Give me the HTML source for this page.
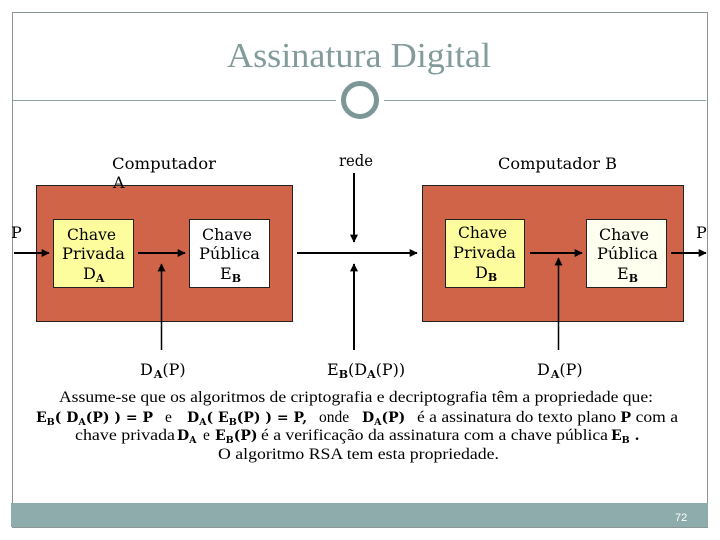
<!DOCTYPE html>
<html><head><meta charset="utf-8"><style>
html,body{margin:0;padding:0;background:#fff;width:720px;height:540px;overflow:hidden}
svg{display:block}
.d{font-family:"DejaVu Serif",serif;font-size:16px;fill:#000}
.s{font-family:"DejaVu Serif",serif;font-size:11px;font-weight:bold;fill:#000}
.b{font-family:"Liberation Serif",serif;font-size:15.5px;fill:#000}
.bb{font-family:"DejaVu Serif",serif;font-size:14px;font-weight:bold;fill:#000}
.bs{font-family:"DejaVu Serif",serif;font-size:9.5px;font-weight:bold;fill:#000}
</style></head><body>
<svg width="720" height="540" viewBox="0 0 720 540" xmlns="http://www.w3.org/2000/svg">
<defs><marker id="a" markerWidth="8" markerHeight="8" refX="5.5" refY="3" orient="auto" markerUnits="userSpaceOnUse" viewBox="0 0 6 6"><path d="M0 0L6 3L0 6z" fill="#000"/></marker></defs>
<rect x="12.500" y="12.500" width="695" height="515" fill="#fff" stroke="#8b9797" stroke-width="1"/>
<rect x="11" y="503" width="697" height="24" fill="#8dacab"/>
<text x="227" y="67" font-family="Liberation Serif,serif" font-size="35" fill="#839b9b" textLength="264" lengthAdjust="spacingAndGlyphs">Assinatura Digital</text>
<line x1="13" y1="100.500" x2="336" y2="100.500" stroke="#8aa0a0" stroke-width="1"/>
<line x1="384" y1="100.500" x2="706" y2="100.500" stroke="#8aa0a0" stroke-width="1"/>
<circle cx="360" cy="100" r="16.500" fill="#fff" stroke="#7d9696" stroke-width="5"/>

<rect x="36.500" y="185.500" width="256" height="136" fill="#cf6448" stroke="#222"/>
<rect x="53.500" y="219.500" width="80" height="68" fill="#fdfd9e" stroke="#222"/>
<rect x="189.500" y="219.500" width="80" height="68" fill="#fff" stroke="#222"/>
<rect x="422.500" y="185.500" width="261" height="136" fill="#cf6448" stroke="#222"/>
<rect x="445.500" y="219.500" width="79" height="68" fill="#fdfd9e" stroke="#222"/>
<rect x="586.500" y="219.500" width="80" height="68" fill="#fffff0" stroke="#222"/>

<g stroke="#000" stroke-width="2" fill="none">
<line x1="14" y1="253" x2="49" y2="253" marker-end="url(#a)"/>
<line x1="138" y1="253" x2="185" y2="253" marker-end="url(#a)"/>
<line x1="297" y1="253" x2="417" y2="253" marker-end="url(#a)"/>
<line x1="530" y1="253" x2="582" y2="253" marker-end="url(#a)"/>
<line x1="671" y1="253" x2="706" y2="253" marker-end="url(#a)"/>
<line x1="161.500" y1="350" x2="161.500" y2="264" stroke-width="1.500" marker-end="url(#a)"/>
<line x1="354" y1="173" x2="354" y2="242" marker-end="url(#a)"/>
<line x1="354" y1="350" x2="354" y2="264" marker-end="url(#a)"/>
<line x1="558.500" y1="350" x2="558.500" y2="258" stroke-width="1.500" marker-end="url(#a)"/>
</g>

<text class="d" x="112" y="169" textLength="104" lengthAdjust="spacingAndGlyphs">Computador</text>
<text class="d" x="113" y="188">A</text>
<text class="d" x="339" y="166" textLength="34" lengthAdjust="spacingAndGlyphs">rede</text>
<text class="d" x="498" y="169" textLength="119" lengthAdjust="spacingAndGlyphs">Computador B</text>
<text class="d" x="11" y="238">P</text>
<text class="d" x="696" y="238">P</text>

<g>
<text class="d" x="67" y="240" textLength="49" lengthAdjust="spacingAndGlyphs">Chave</text><text class="d" x="62" y="259" textLength="63" lengthAdjust="spacingAndGlyphs">Privada</text>
<text class="d" x="202" y="240" textLength="50" lengthAdjust="spacingAndGlyphs">Chave</text><text class="d" x="199" y="259" textLength="61" lengthAdjust="spacingAndGlyphs">Pública</text>
<text class="d" x="458" y="238" textLength="49" lengthAdjust="spacingAndGlyphs">Chave</text><text class="d" x="453" y="258" textLength="63" lengthAdjust="spacingAndGlyphs">Privada</text>
<text class="d" x="599" y="240" textLength="50" lengthAdjust="spacingAndGlyphs">Chave</text><text class="d" x="597" y="259" textLength="61" lengthAdjust="spacingAndGlyphs">Pública</text>
</g>
<text class="d" x="83" y="279">D<tspan class="s" dy="3">A</tspan></text>
<text class="d" x="220" y="279">E<tspan class="s" dy="3">B</tspan></text>
<text class="d" x="475" y="278">D<tspan class="s" dy="3">B</tspan></text>
<text class="d" x="617" y="279">E<tspan class="s" dy="3">B</tspan></text>

<text class="d" x="140" y="375">D<tspan class="s" dy="3" dx="1">A</tspan><tspan dy="-3">(P)</tspan></text>
<text class="d" x="327" y="375">E<tspan class="s" dy="3">B</tspan><tspan dy="-3">(D</tspan><tspan class="s" dy="3">A</tspan><tspan dy="-3">(P))</tspan></text>
<text class="d" x="537" y="375">D<tspan class="s" dy="3" dx="1">A</tspan><tspan dy="-3">(P)</tspan></text>

<text class="b" x="59" y="402" textLength="594" lengthAdjust="spacingAndGlyphs">Assume-se que os algoritmos de criptografia e decriptografia têm a propriedade que:</text>

<text class="bb" x="36" y="422">E<tspan class="bs" dy="3">B</tspan><tspan dy="-3">( D</tspan><tspan class="bs" dy="3">A</tspan><tspan dy="-3">(P) ) = P</tspan></text>
<text class="b" x="165" y="422">e</text>
<text class="bb" x="187" y="422">D<tspan class="bs" dy="3">A</tspan><tspan dy="-3">( E</tspan><tspan class="bs" dy="3">B</tspan><tspan dy="-3">(P) ) = P,</tspan></text>
<text class="b" x="319" y="422">onde</text>
<text class="bb" x="362" y="422">D<tspan class="bs" dy="3">A</tspan><tspan dy="-3">(P)</tspan></text>
<text class="b" x="417" y="422" textLength="261" lengthAdjust="spacingAndGlyphs">é a assinatura do texto plano <tspan font-weight="bold">P</tspan> com a</text>

<text class="b" x="75" y="440" textLength="100" lengthAdjust="spacingAndGlyphs">chave privada</text>
<text class="bb" x="177" y="440">D<tspan class="bs" dy="3">A</tspan></text>
<text class="b" x="203" y="440">e</text>
<text class="bb" x="215" y="440">E<tspan class="bs" dy="3">B</tspan><tspan dy="-3">(P)</tspan></text>
<text class="b" x="261" y="440" textLength="347" lengthAdjust="spacingAndGlyphs">é a verificação da assinatura com a chave pública</text>
<text class="bb" x="611" y="440">E<tspan class="bs" dy="3">B</tspan><tspan dy="-3"> .</tspan></text>

<text class="b" x="218" y="459" textLength="281" lengthAdjust="spacingAndGlyphs">O algoritmo RSA  tem esta propriedade.</text>

<text x="675" y="521" font-family="Liberation Sans,sans-serif" font-size="11" fill="#fff">72</text>
</svg>
</body></html>
